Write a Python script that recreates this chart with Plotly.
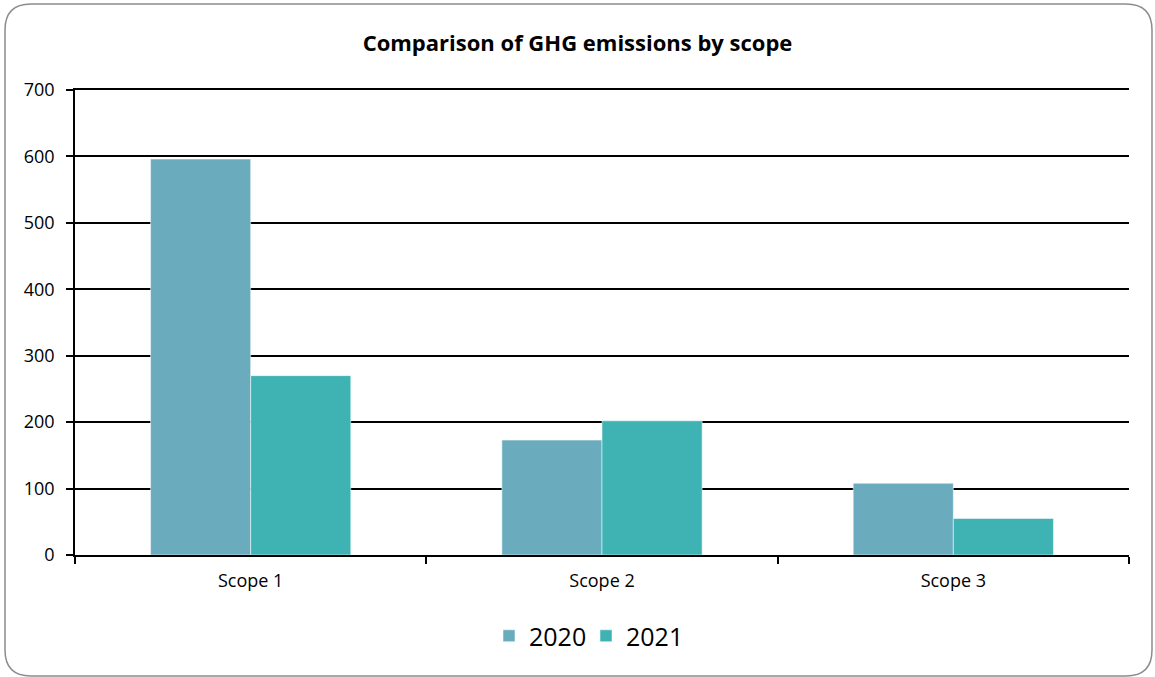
import plotly.graph_objects as go

categories = ["Scope 1", "Scope 2", "Scope 3"]
values_2020 = [596, 173, 108]
values_2021 = [270, 202, 55]
series_names = ["2020", "2021"]
y_ticks = [0, 100, 200, 300, 400, 500, 600, 700]

W, H = 1155, 677
L, R, T, B = 75, 26, 90, 122
pw, ph = W - L - R, H - T - B

def px(x):
    return (x - L) / pw

def py(y):
    return (H - B - y) / ph

fig = go.Figure()
fig.add_trace(go.Bar(x=categories, y=values_2020, name=series_names[0],
                     marker=dict(color="#6aacbe", line=dict(color="rgba(255,255,255,0.5)", width=1))))
fig.add_trace(go.Bar(x=categories, y=values_2021, name=series_names[1],
                     marker=dict(color="#3fb3b3", line=dict(color="rgba(255,255,255,0.5)", width=1))))

# rounded border
x0, x1, y0, y1, r = 5, 1152, 4, 676, 26
path = (f"M {px(x0+r)},{py(y0)} L {px(x1-r)},{py(y0)} Q {px(x1)},{py(y0)} {px(x1)},{py(y0+r)} "
        f"L {px(x1)},{py(y1-r)} Q {px(x1)},{py(y1)} {px(x1-r)},{py(y1)} "
        f"L {px(x0+r)},{py(y1)} Q {px(x0)},{py(y1)} {px(x0)},{py(y1-r)} "
        f"L {px(x0)},{py(y0+r)} Q {px(x0)},{py(y0)} {px(x0+r)},{py(y0)} Z")
fig.add_shape(type="path", path=path, xref="paper", yref="paper",
              line=dict(color="#8c8c8c", width=1.5), layer="below")

fig.update_layout(
    width=W, height=H,
    margin=dict(l=L, r=R, t=T, b=B),
    paper_bgcolor="white", plot_bgcolor="white",
    font=dict(family="Open Sans, sans-serif", color="black"),
    title=dict(text="<b>Comparison of GHG emissions by scope</b>", x=0.5, xanchor="center",
               y=1 - 43 / H, yanchor="middle", font=dict(size=22, color="black")),
    barmode="group", bargap=0.43, bargroupgap=0,
    showlegend=True,
    legend=dict(orientation="h", x=0.5 - 16 / pw, xanchor="center", y=py(636), yanchor="middle",
                font=dict(size=25), itemwidth=30, entrywidth=52, traceorder="normal"),
    xaxis=dict(type="category", showline=True, linecolor="black", linewidth=2, mirror=True,
               ticks="outside", tickson="boundaries", ticklen=7, tickcolor="black", tickwidth=1.5,
               showgrid=False, tickfont=dict(size=18), ticklabelstandoff=8),
    yaxis=dict(range=[0, 700], tickvals=y_ticks, showline=True, linecolor="black", linewidth=1.5,
               ticks="outside", ticklen=7, tickcolor="black", tickwidth=1.5,
               showgrid=True, gridcolor="black", gridwidth=2, zeroline=False,
               tickfont=dict(size=18), ticklabelstandoff=8),
)

fig.write_html("out.html", config={"displayModeBar": False},
               post_script="document.body.style.margin='0px';")
